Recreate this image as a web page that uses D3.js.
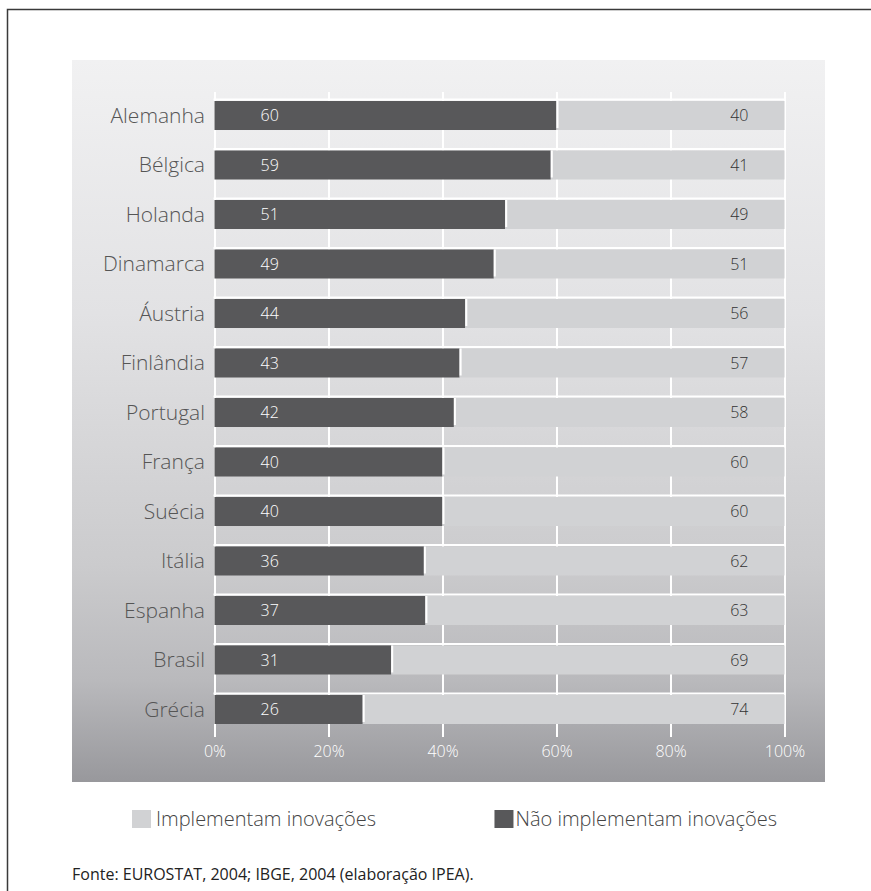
<!DOCTYPE html>
<html>
<head>
<meta charset="utf-8">
<script src="https://cdn.jsdelivr.net/npm/d3@7"></script>
<style>
  html, body { margin: 0; padding: 0; background: #fff; }
  svg { display: block; }
  text { font-family: "Open Sans", "DejaVu Sans", sans-serif; }
</style>
</head>
<body>
<svg id="chart" width="871" height="891"></svg>
<script>
// Empresas que implementam / não implementam inovações (%)
const countries = ["Alemanha", "Bélgica", "Holanda", "Dinamarca", "Áustria", "Finlândia",
  "Portugal", "França", "Suécia", "Itália", "Espanha", "Brasil", "Grécia"];
const naoImplementam = [60, 59, 51, 49, 44, 43, 42, 40, 40, 36, 37, 31, 26];
const implementam    = [40, 41, 49, 51, 56, 57, 58, 60, 60, 62, 63, 69, 74];
const tickValues = [0, 0.2, 0.4, 0.6, 0.8, 1];
const legendLabels = ["Implementam inovações", "Não implementam inovações"];
const sourceText = "Fonte: EUROSTAT, 2004; IBGE, 2004 (elaboração IPEA).";

const DARK = "#58585a";
const LIGHT = "#d1d2d4";

const rows = countries.map((c, i) => ({ pais: c, nao: naoImplementam[i], impl: implementam[i] }));
const series = d3.stack().keys(["nao", "impl"]).offset(d3.stackOffsetExpand)(rows);

const svg = d3.select("#chart");

// outer frame
svg.append("rect")
  .attr("x", 7.5).attr("y", 9.5).attr("width", 900).attr("height", 950)
  .attr("fill", "none").attr("stroke", "#3a3a3a").attr("stroke-width", 1.5);

// panel gradient
const defs = svg.append("defs");
const grad = defs.append("linearGradient").attr("id", "panelGrad")
  .attr("x1", 0).attr("y1", 0).attr("x2", 0).attr("y2", 1);
[[0, "#f1f1f2"], [0.35, "#e2e2e4"], [0.7, "#cbcbcd"], [0.86, "#b9b9bc"], [1, "#98989c"]]
  .forEach(([o, c]) => grad.append("stop").attr("offset", o).attr("stop-color", c));

svg.append("rect")
  .attr("x", 72).attr("y", 60).attr("width", 753).attr("height", 722)
  .attr("fill", "url(#panelGrad)");

const x = d3.scaleLinear().domain([0, 1]).range([214.5, 784.5]);
const y = d3.scaleBand().domain(countries).range([101, 724]).paddingInner(0.414).paddingOuter(0);

// gridlines + percent labels
const axis = d3.axisBottom(x)
  .tickValues(tickValues)
  .tickFormat(d3.format(".0%"))
  .tickSize(-(737 - 92))
  .tickPadding(9);
const gAxis = svg.append("g").attr("transform", "translate(0,737)").call(axis);
gAxis.select(".domain").remove();
gAxis.selectAll(".tick line").attr("stroke", "#ffffff").attr("stroke-width", 2);
gAxis.selectAll(".tick text")
  .attr("fill", "#ffffff").style("font-size", "16px")
  .style("font-family", "'Open Sans', sans-serif").style("font-weight", 300);

// white rule above each row
svg.append("g").selectAll("line").data(countries).join("line")
  .attr("x1", x(0) - 1).attr("x2", x(1) + 1)
  .attr("y1", d => y(d) - 1.5).attr("y2", d => y(d) - 1.5)
  .attr("stroke", "#ffffff").attr("stroke-width", 2);

// stacked bars
const colors = { nao: DARK, impl: LIGHT };
const layers = svg.append("g").selectAll("g").data(series).join("g")
  .attr("fill", s => colors[s.key]);
layers.selectAll("rect").data(s => s).join("rect")
  .attr("x", d => x(d[0]))
  .attr("y", d => y(d.data.pais))
  .attr("width", d => x(d[1]) - x(d[0]))
  .attr("height", y.bandwidth());

// white separator at the start of each light segment
svg.append("g").selectAll("line").data(series[1]).join("line")
  .attr("x1", d => x(d[0]) + 1).attr("x2", d => x(d[0]) + 1)
  .attr("y1", d => y(d.data.pais)).attr("y2", d => y(d.data.pais) + y.bandwidth() - 2)
  .attr("stroke", "#ffffff").attr("stroke-width", 2);

// value labels
svg.append("g").selectAll("text").data(rows).join("text")
  .attr("x", x(0) + 46)
  .attr("y", d => y(d.pais) + y.bandwidth() / 2)
  .attr("dy", "0.35em")
  .attr("fill", "#ffffff")
  .style("font-size", "16px")
  .style("font-weight", 300)
  .text(d => d.nao);

svg.append("g").selectAll("text").data(rows).join("text")
  .attr("x", x(1) - 36)
  .attr("y", d => y(d.pais) + y.bandwidth() / 2)
  .attr("dy", "0.35em")
  .attr("text-anchor", "end")
  .attr("fill", "#333333")
  .style("font-size", "16px")
  .style("font-weight", 300)
  .text(d => d.impl);

// country names
svg.append("g").selectAll("text").data(countries).join("text")
  .attr("x", 205)
  .attr("y", d => y(d) + y.bandwidth() / 2)
  .attr("dy", "0.35em")
  .attr("text-anchor", "end")
  .attr("fill", "#555555")
  .style("font-size", "21px")
  .style("font-weight", 300)
  .text(d => d);

// legend
const lgY = 810;
const lg1 = svg.append("g").attr("transform", `translate(132,${lgY})`);
lg1.append("rect").attr("width", 19).attr("height", 18).attr("fill", LIGHT);
lg1.append("text").attr("x", 24).attr("y", 16)
  .attr("fill", "#444444").style("font-size", "20px").style("font-weight", 300)
  .text(legendLabels[0]);

const lg2 = svg.append("g");
const t2 = lg2.append("text").attr("x", 777).attr("y", lgY + 16)
  .attr("text-anchor", "end")
  .attr("fill", "#444444").style("font-size", "20px").style("font-weight", 300)
  .text(legendLabels[1]);
const t2w = t2.node().getComputedTextLength();
lg2.append("rect")
  .attr("x", 777 - t2w - 21).attr("y", lgY)
  .attr("width", 19).attr("height", 18).attr("fill", DARK);

// source note
svg.append("text")
  .attr("x", 72).attr("y", 880)
  .attr("fill", "#222222")
  .style("font-size", "16px")
  .text(sourceText);
</script>
</body>
</html>
